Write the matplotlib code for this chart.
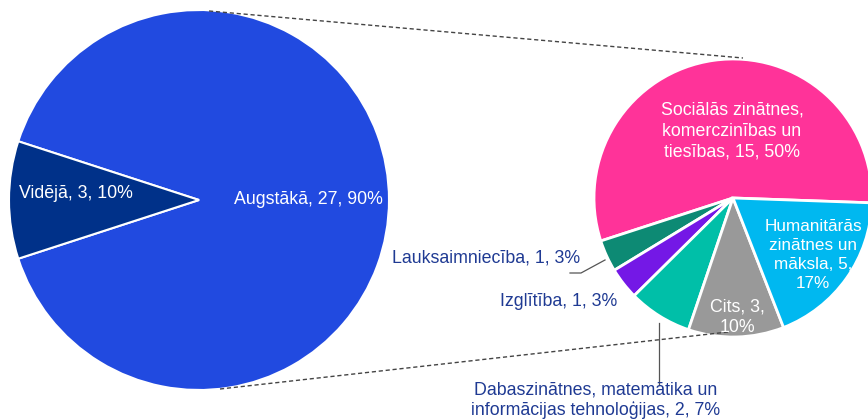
import matplotlib
matplotlib.use("Agg")
import matplotlib.pyplot as plt

plt.rcParams['font.family'] = ['Liberation Sans', 'DejaVu Sans']

# first pie: education level
edu_names = ["Augstākā", "Vidējā"]
edu_vals = [27, 3]
edu_colors = ["#214ae0", "#003189"]

# second pie: split of "Augstākā"
field_names = ["Sociālās zinātnes,\nkomerczinības un\ntiesības",
               "Lauksaimniecība", "Izglītība",
               "Dabaszinātnes, matemātika un\ninformācijas tehnoloģijas",
               "Cits", "Humanitārās\nzinātnes un\nmāksla"]
field_vals = [15, 1, 1, 2, 3, 5]
field_colors = ["#ff3399", "#0d8a74", "#7418e6", "#00bfa8", "#999999", "#00b8f0"]

total = sum(edu_vals)
H = 419

fig = plt.figure(figsize=(8.68, 4.19), dpi=100)
ax = fig.add_axes([0, 0, 1, 1])

c1 = (199, H - 200)
r1 = 190
c2 = (733, H - 198)
r2 = 139

ax.pie(edu_vals, colors=edu_colors, startangle=198, center=c1, radius=r1,
       wedgeprops=dict(edgecolor="white", linewidth=1.5))
ax.pie(field_vals, colors=field_colors, startangle=-2, center=c2, radius=r2,
       wedgeprops=dict(edgecolor="white", linewidth=2))

# connector lines
ax.plot([c1[0] + 10, c2[0] + 10], [c1[1] + r1 - 1, c2[1] + r2 + 1],
        ls=(0, (3, 2)), color="#444444", lw=1)
ax.plot([c1[0] + 21, c2[0] - 5], [c1[1] - r1 + 1, c2[1] - r2 + 5],
        ls=(0, (3, 2)), color="#444444", lw=1)

fs = 12.8
navy = "#1f3a93"


def lab(name, v):
    return f"{name}, {v}, {round(v / total * 100)}%"


# first pie labels
ax.text(308, H - 200, lab(edu_names[0], edu_vals[0]), color="white",
        fontsize=fs, ha="center", va="center")
ax.text(76, H - 193, lab(edu_names[1], edu_vals[1]), color="white",
        fontsize=fs, ha="center", va="center")

# second pie labels
ax.text(732, H - 131, lab(field_names[0], field_vals[0]), color="white",
        fontsize=fs, ha="center", va="center", linespacing=1.3)
ax.text(813, H - 255, "Humanitārās\nzinātnes un\nmāksla, %d,\n%d%%"
        % (field_vals[5], round(field_vals[5] / total * 100)),
        color="white", fontsize=12.3, ha="center", va="center", linespacing=1.36)
ax.text(737, H - 317, "Cits, %d,\n%d%%" % (field_vals[4], round(field_vals[4] / total * 100)),
        color="white", fontsize=fs, ha="center", va="center", linespacing=1.3)
ax.text(580, H - 258, lab(field_names[1], field_vals[1]), color=navy,
        fontsize=fs, ha="right", va="center")
ax.text(617, H - 302, lab(field_names[2], field_vals[2]), color=navy,
        fontsize=fs, ha="right", va="center")
ax.text(596, H - 400, lab(field_names[3], field_vals[3]), color=navy,
        fontsize=fs, ha="center", va="center", linespacing=1.2)

# leader lines
ax.plot([570, 581, 605], [H - 273, H - 273, H - 260], color="#555555", lw=0.9)
ax.plot([659, 659], [H - 323, H - 385], color="#555555", lw=0.9)

ax.set_xlim(0, 868)
ax.set_ylim(0, H)
ax.set_aspect("auto")
ax.axis("off")

fig.savefig("out.png", dpi=100)
